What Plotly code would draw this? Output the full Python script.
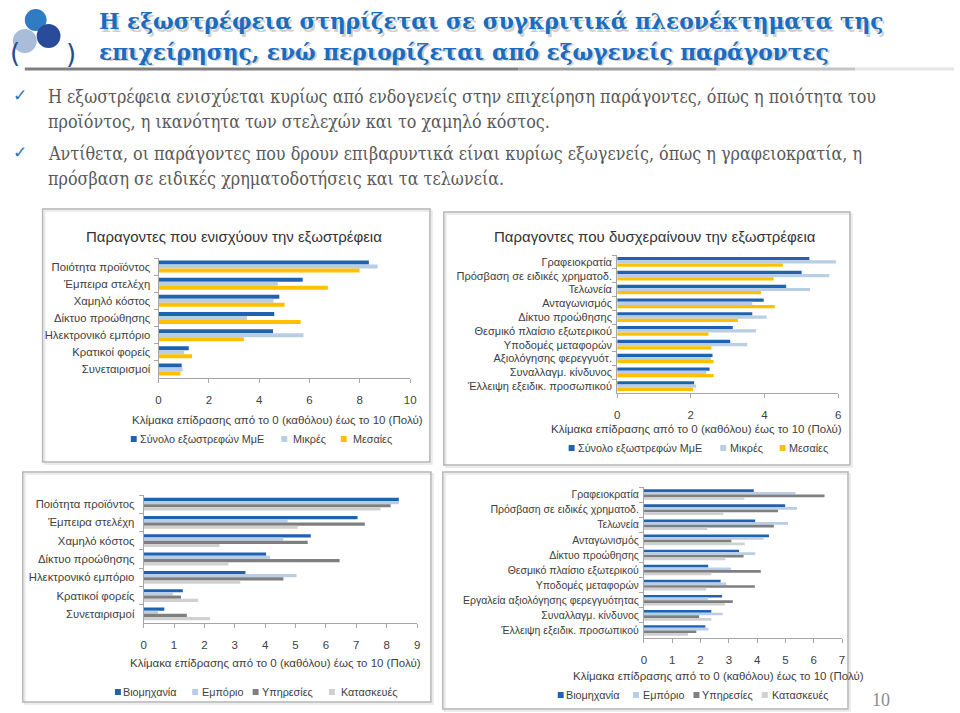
import plotly.graph_objects as go

W, H = 960, 713


def px(x):
    return x / W


def py(y):
    return 1 - y / H


# ---------------- data ----------------
cats_pos = ["Ποιότητα προϊόντος", "Έμπειρα στελέχη", "Χαμηλό κόστος", "Δίκτυο προώθησης",
            "Ηλεκτρονικό εμπόριο", "Κρατικοί φορείς", "Συνεταιρισμοί"]
pos_total = [8.36, 5.73, 4.80, 4.60, 4.55, 1.20, 0.92]
pos_small = [8.71, 4.74, 4.57, 3.52, 5.76, 1.02, 0.96]
pos_medium = [7.99, 6.73, 5.01, 5.65, 3.39, 1.33, 0.87]

cats_neg = ["Γραφειοκρατία", "Πρόσβαση σε ειδικές χρηματοδ.", "Τελωνεία", "Ανταγωνισμός",
            "Δίκτυο προώθησης", "Θεσμικό πλαίσιο εξωτερικού", "Υποδομές μεταφορών",
            "Αξιολόγησης φερεγγυότ.", "Συναλλαγμ. κίνδυνος", "Έλλειψη εξειδικ. προσωπικού"]
neg_total = [5.22, 5.01, 4.59, 3.98, 3.67, 3.14, 3.07, 2.59, 2.51, 2.09]
neg_small = [5.94, 5.76, 5.24, 3.67, 4.06, 3.77, 3.53, 2.55, 2.42, 2.14]
neg_medium = [4.50, 4.25, 3.91, 4.28, 3.28, 2.48, 2.56, 2.62, 2.62, 2.06]

sec_pos_ind = [8.40, 7.04, 5.50, 4.03, 3.35, 1.29, 0.68]
sec_pos_trade = [8.40, 4.74, 4.60, 4.16, 5.03, 0.96, 0.47]
sec_pos_serv = [8.13, 7.28, 5.40, 6.45, 4.60, 1.23, 1.42]
sec_pos_constr = [7.80, 5.07, 2.50, 2.79, 3.18, 1.79, 2.18]

cats_neg_sec = ["Γραφειοκρατία", "Πρόσβαση σε ειδικές χρηματοδ.", "Τελωνεία", "Ανταγωνισμός",
                "Δίκτυο προώθησης", "Θεσμικό πλαίσιο εξωτερικού", "Υποδομές μεταφορών",
                "Εργαλεία αξιολόγησης φερεγγυότητας", "Συναλλαγμ. κίνδυνος",
                "Έλλειψη εξειδικ. προσωπικού"]
sec_neg_ind = [3.88, 4.99, 3.93, 4.42, 3.36, 2.27, 2.71, 2.76, 2.38, 2.17]
sec_neg_trade = [5.35, 5.41, 5.09, 4.23, 3.93, 3.07, 2.91, 2.26, 2.78, 2.28]
sec_neg_serv = [6.38, 4.74, 4.59, 3.09, 3.52, 4.13, 3.92, 3.14, 1.95, 1.85]
sec_neg_constr = [3.55, 2.81, 2.23, 3.56, 2.88, 2.38, 2.20, 2.86, 2.38, 1.56]

size_names = ["Σύνολο εξωστρεφών ΜμΕ", "Μικρές", "Μεσαίες"]
sector_names = ["Βιομηχανία", "Εμπόριο", "Υπηρεσίες", "Κατασκευές"]

title_lines = ["Η εξωστρέφεια στηρίζεται σε συγκριτικά πλεονέκτηματα της",
               "επιχείρησης, ενώ περιορίζεται από εξωγενείς παράγοντες"]
bullet_lines = [
    "Η εξωστρέφεια ενισχύεται κυρίως από ενδογενείς στην επιχείρηση παράγοντες, όπως η ποιότητα του",
    "προϊόντος, η ικανότητα των στελεχών και το χαμηλό κόστος.",
    "Αντίθετα, οι παράγοντες που δρουν επιβαρυντικά είναι κυρίως εξωγενείς, όπως η γραφειοκρατία, η",
    "πρόσβαση σε ειδικές χρηματοδοτήσεις και τα τελωνεία.",
]
chart_titles = ["Παραγοντες που ενισχύουν την εξωστρέφεια",
                "Παραγοντες που δυσχεραίνουν την εξωστρέφεια"]
axis_title = "Κλίμακα επίδρασης από το 0 (καθόλου) έως το 10 (Πολύ)"

# ---------------- style ----------------
C_DARK = "#1F62B0"
C_LIGHT = "#B9CDE5"
C_YELLOW = "#FFC000"
C_GRAY = "#7F7F7F"
C_LGRAY = "#D0D0D0"
FONT = "Liberation Sans, Arial, sans-serif"
TXT = "#404040"

fig = go.Figure()

size_colors = [C_DARK, C_LIGHT, C_YELLOW]
sector_colors = [C_DARK, C_LIGHT, C_GRAY, C_LGRAY]

for name, vals, col in zip(size_names, [pos_total, pos_small, pos_medium], size_colors):
    fig.add_trace(go.Bar(y=cats_pos, x=vals, orientation="h", name=name,
                         marker=dict(color=col, line=dict(width=0)),
                         xaxis="x", yaxis="y", showlegend=False))
for name, vals, col in zip(size_names, [neg_total, neg_small, neg_medium], size_colors):
    fig.add_trace(go.Bar(y=cats_neg, x=vals, orientation="h", name=name,
                         marker=dict(color=col, line=dict(width=0)),
                         xaxis="x2", yaxis="y2", showlegend=False))
for name, vals, col in zip(sector_names, [sec_pos_ind, sec_pos_trade, sec_pos_serv, sec_pos_constr],
                           sector_colors):
    fig.add_trace(go.Bar(y=cats_pos, x=vals, orientation="h", name=name,
                         marker=dict(color=col, line=dict(width=0)),
                         xaxis="x3", yaxis="y3", showlegend=False))
for name, vals, col in zip(sector_names, [sec_neg_ind, sec_neg_trade, sec_neg_serv, sec_neg_constr],
                           sector_colors):
    fig.add_trace(go.Bar(y=cats_neg_sec, x=vals, orientation="h", name=name,
                         marker=dict(color=col, line=dict(width=0)),
                         xaxis="x4", yaxis="y4", showlegend=False))


def xax(x0, x1, y_anchor, rng, dtick, fs=11.5, standoff=7):
    return dict(domain=[px(x0), px(x1)], anchor=y_anchor, range=rng, dtick=dtick,
                showgrid=False, zeroline=False, showline=True, linecolor="#A6A6A6",
                linewidth=1, ticks="outside", ticklen=4, tickcolor="#A6A6A6",
                tickfont=dict(family=FONT, size=fs, color=TXT), ticklabelstandoff=standoff,
                fixedrange=True)


def yax(y_top, y_bot, x_anchor, fs=11, standoff=2):
    return dict(domain=[py(y_bot), py(y_top)], anchor=x_anchor, type="category",
                autorange="reversed", showgrid=False, zeroline=False, showline=True,
                linecolor="#A6A6A6", linewidth=1, ticks="outside", ticklen=4,
                tickcolor="#A6A6A6", tickson="boundaries",
                tickfont=dict(family=FONT, size=fs, color=TXT), ticklabelstandoff=standoff,
                fixedrange=True)


fig.update_layout(
    width=W, height=H, margin=dict(l=0, r=0, t=0, b=0),
    paper_bgcolor="white", plot_bgcolor="white",
    barmode="group", bargap=0.3, bargroupgap=0,
    xaxis=xax(157, 411, "y", [0, 10], 2),
    yaxis=yax(258, 378, "x", 11.3, standoff=5),
    xaxis2=xax(620, 843, "y2", [0, 6], 2),
    yaxis2=yax(255, 393, "x2", 11),
    xaxis3=xax(142, 418, "y3", [0, 9], 1, standoff=7),
    yaxis3=yax(495, 623, "x3", 11.3, standoff=6),
    xaxis4=xax(647, 847, "y4", [0, 7], 1),
    yaxis4=yax(487, 638, "x4", 10.5),
    showlegend=False,
)

shapes = []
# chart frames
for (x0, y0, x1, y1) in [(40, 209, 431, 462), (445, 212, 855, 465),
                         (20, 472, 432, 702), (444, 472, 853, 709)]:
    shapes.append(dict(type="rect", xref="paper", yref="paper", x0=px(x0 + 2), x1=px(x1 + 2),
                       y0=py(y1 + 2), y1=py(y0 + 2), line=dict(color="#E6E6E6", width=1.5),
                       layer="below"))
    shapes.append(dict(type="rect", xref="paper", yref="paper", x0=px(x0), x1=px(x1),
                       y0=py(y1), y1=py(y0), line=dict(color="#B4B4B4", width=1.5)))
# rule under the title, fading to the right
for (a, b, op) in [(22, 520, 1.0), (520, 720, 0.75), (720, 860, 0.45), (860, 960, 0.2)]:
    shapes.append(dict(type="line", xref="paper", yref="paper", x0=px(a), x1=px(b),
                       y0=py(69), y1=py(69), line=dict(color="#7F7F7F", width=3), opacity=op))
# logo gears
for (cx, cy, r, col) in [(33, 20, 10, "#2F7CC3"), (46, 36, 11, "#2A4A9A"), (22, 41, 11, "#A9BCD9")]:
    shapes.append(dict(type="circle", xref="paper", yref="paper", x0=px(cx - r), x1=px(cx + r),
                       y0=py(cy + r), y1=py(cy - r), fillcolor=col,
                       line=dict(color=col, width=2)))

ann = []
# manual legends: (square x, text x) per entry, y centre
legend_specs = [
    (439, size_names, size_colors, [(130, 137), (282, 292), (342, 352)]),
    (448, size_names, size_colors, [(572, 579), (725, 733), (785, 792)]),
    (692, sector_names, sector_colors, [(114, 120), (192, 200), (253, 260), (330, 340)]),
    (695, sector_names, sector_colors, [(561, 567), (637, 645), (698, 705), (767, 775)]),
]
for yc, names, cols, pos in legend_specs:
    for name, col, (sx, tx) in zip(names, cols, pos):
        shapes.append(dict(type="rect", xref="paper", yref="paper", x0=px(sx - 1), x1=px(sx + 5),
                           y0=py(yc + 3), y1=py(yc - 3), fillcolor=col, line=dict(width=0)))
        ann.append(dict(text=name, x=px(tx - 1), y=py(yc), xref="paper", yref="paper",
                        xanchor="left", yanchor="middle", showarrow=False,
                        font=dict(family=FONT, size=10.8, color=TXT)))
fig.update_layout(shapes=shapes)

# logo arcs
ann.append(dict(text="(", x=px(5), y=py(36), xref="paper", yref="paper", showarrow=False,
                font=dict(family="DejaVu Sans", size=26, color="#1F4E96")))
ann.append(dict(text=")", x=px(62), y=py(37), xref="paper", yref="paper", showarrow=False,
                font=dict(family="DejaVu Sans", size=26, color="#1F4E96")))
# title with shadow
for line, yy in zip(title_lines, [22, 52]):
    ann.append(dict(text="<b>" + line + "</b>", x=px(97), y=py(yy + 2), xref="paper",
                    yref="paper", xanchor="left", yanchor="middle", showarrow=False,
                    font=dict(family="DejaVu Serif", size=21.7, color="rgba(90,90,90,0.3)")))
    ann.append(dict(text="<b>" + line + "</b>", x=px(95), y=py(yy), xref="paper",
                    yref="paper", xanchor="left", yanchor="middle", showarrow=False,
                    font=dict(family="DejaVu Serif", size=21.7, color="#1A6CC0")))
# bullets
for yy in [95, 152]:
    ann.append(dict(text="✓", x=px(17), y=py(yy), xref="paper", yref="paper",
                    xanchor="center", yanchor="middle", showarrow=False,
                    font=dict(family="DejaVu Sans", size=17, color="#2E75B6")))
for line, yy in zip(bullet_lines, [96, 121, 153, 178]):
    ann.append(dict(text=line, x=px(43), y=py(yy), xref="paper", yref="paper",
                    xanchor="left", yanchor="middle", showarrow=False,
                    font=dict(family="DejaVu Serif Condensed, Liberation Serif, serif",
                              size=17.8, color="#595959")))
# chart titles
for t, xc in zip(chart_titles, [233, 658]):
    ann.append(dict(text=t, x=px(xc), y=py(236), xref="paper", yref="paper",
                    xanchor="center", yanchor="middle", showarrow=False,
                    font=dict(family=FONT, size=15, color="#333333")))
# axis titles
for xc, yy in [(277, 420), (700, 429), (275, 663), (722, 676)]:
    ann.append(dict(text=axis_title, x=px(xc), y=py(yy), xref="paper", yref="paper",
                    xanchor="center", yanchor="middle", showarrow=False,
                    font=dict(family=FONT, size=11.5, color=TXT)))
# page number
ann.append(dict(text="10", x=px(886), y=py(700), xref="paper", yref="paper",
                xanchor="center", yanchor="middle", showarrow=False,
                font=dict(family="Liberation Serif", size=18, color="#8C8C8C")))
fig.update_layout(annotations=ann)

fig.write_html("out.html", config={"displayModeBar": False},
               post_script="document.body.style.margin='0px';document.body.style.overflow='hidden';")
